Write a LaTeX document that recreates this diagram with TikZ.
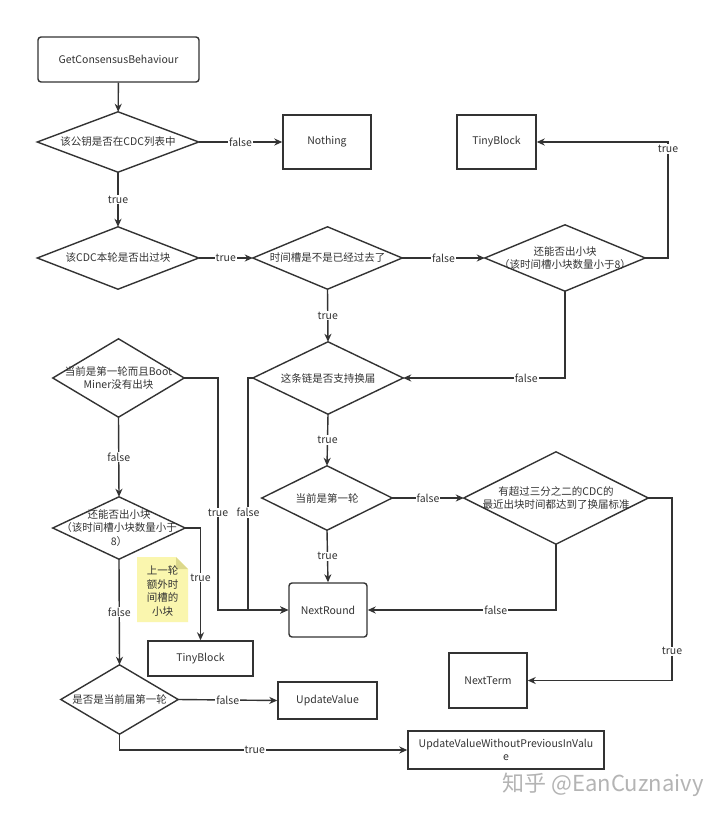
\documentclass[tikz,border=0pt]{standalone}
\usepackage{fontspec}
\setmainfont{Noto Sans CJK SC}
\usetikzlibrary{arrows.meta}
\definecolor{lnc}{HTML}{333333}
\definecolor{txt}{HTML}{333333}
\definecolor{notefill}{HTML}{FAF6AE}
\definecolor{notefold}{HTML}{DCD88C}
\definecolor{wm}{HTML}{B4B4B4}
\begin{document}
\begin{tikzpicture}[x=1pt,y=-1pt,
  every node/.style={font=\fontsize{10.5}{13.5}\selectfont, text=txt},
  box/.style={draw=lnc, line width=1.4pt, inner sep=0pt, align=center},
  rbox/.style={box, rounded corners=3pt},
  dia/.style={inner sep=0pt, align=center},
  lbl/.style={fill=white, inner sep=1pt},
  conn/.style={draw=lnc, line width=1.4pt},
  arr/.style={conn, -{Stealth[length=8pt,width=7pt,inset=2.5pt]}}]
\fill[white] (0,0) rectangle (720,818);
\useasboundingbox (0,0) rectangle (720,818);

% boxes
\node[rbox, minimum width=161pt, minimum height=45pt] (start) at (118.5,59.5) {GetConsensusBehaviour};
\node[box, minimum width=88pt, minimum height=54pt] (nothing) at (327,142) {Nothing};
\node[box, minimum width=79pt, minimum height=54pt] (tiny1) at (496.5,142) {TinyBlock};
\node[rbox, minimum width=78pt, minimum height=54pt] (nextround) at (328,610) {NextRound};
\node[box, minimum width=78pt, minimum height=55pt] (nextterm) at (488,680.5) {NextTerm};
\node[box, minimum width=105pt, minimum height=35pt] (tiny2) at (200.5,658.5) {TinyBlock};
\node[box, minimum width=99pt, minimum height=37pt] (update) at (327.5,700.5) {UpdateValue};
\node[box, minimum width=196pt, minimum height=38pt] (uvw) at (506,750) {UpdateValueWithoutPreviousInValu\\e};

% diamonds
\node[dia, minimum width=161pt, minimum height=60pt] (d1) at (118,142) {该公钥是否在CDC列表中};
\node[dia, minimum width=161pt, minimum height=62pt] (d2) at (118,258) {该CDC本轮是否出过块};
\node[dia, minimum width=149pt, minimum height=62pt] (d3) at (327.5,258) {时间槽是不是已经过去了};
\node[dia, minimum width=160pt, minimum height=66pt] (d4) at (565,258) {还能否出小块\\（该时间槽小块数量小于8）};
\node[dia, minimum width=150pt, minimum height=72pt] (d5) at (328,378) {这条链是否支持换届};
\node[dia, minimum width=131pt, minimum height=78pt] (db) at (118.5,378) {当前是第一轮而且Boot\\Miner没有出块};
\node[dia, minimum width=130pt, minimum height=64pt] (d6) at (327,498) {当前是第一轮};
\node[dia, minimum width=184pt, minimum height=92pt] (d7) at (556,498) {有超过三分之二的CDC的\\最近出块时间都达到了换届标准};
\node[dia, minimum width=132pt, minimum height=62pt] (d8) at (119,528) {还能否出小块\\（该时间槽小块数量小于\\8）};
\node[dia, minimum width=117pt, minimum height=69pt] (d9) at (119.5,699.5) {是否是当前届第一轮};
\foreach \n in {d1,d2,d3,d4,d5,db,d6,d7,d8,d9}
  \draw[conn, line join=miter] (\n.west) -- (\n.north) -- (\n.east) -- (\n.south) -- cycle;

% note
\fill[notefill] (137,557) -- (176,557) -- (188,569) -- (188,622) -- (137,622) -- cycle;
\fill[notefold] (176,557) -- (188,569) -- (176,569) -- cycle;
\node[inner sep=0pt, align=center] (note) at (162.5,591) {上一轮\\额外时\\间槽的\\小块};

% waypoints
\coordinate (c1) at (668,258);
\coordinate (c2) at (248,378);
\coordinate (c3) at (248,610);
\coordinate (c4) at (218,378);
\coordinate (c5) at (218,610);
\coordinate (c6) at (672,498);
\coordinate (c7) at (672,680.5);

% connectors
\draw[arr] (start) -- (d1);
\draw[arr] (d1.east) -- node[lbl]{false} (nothing.west);
\draw[arr] (d1.south) -- node[lbl]{true} (d2.north);
\draw[arr] (d2.east) -- node[lbl]{true} (d3.west);
\draw[arr] (d3.east) -- node[lbl]{false} (d4.west);
\draw[arr] (d4.east) -- (c1) |- node[lbl,pos=0.47]{true} (tiny1.east);
\draw[arr] (d4.south) |- node[lbl,pos=0.62]{false} (d5.east);
\draw[arr] (d3.south) -- node[lbl]{true} (d5.north);
\draw[arr] (d5.west) -- (c2) -- node[lbl,pos=0.58]{false} (c3) -- (nextround.west);
\draw[arr] (db.east) -- (c4) -- node[lbl,pos=0.58]{true} (c5) -- (nextround.west);
\draw[arr] (d5.south) -- node[lbl]{true} (d6.north);
\draw[arr] (d6.east) -- node[lbl]{false} (d7.west);
\draw[arr] (d6.south) -- node[lbl]{true} (nextround.north);
\draw[arr] (d7.south) |- node[lbl,pos=0.66]{false} (nextround.east);
\draw[arr] (d7.east) -- (c6) -- node[lbl,pos=0.84]{true} (c7) -- (nextterm.east);
\draw[arr] (db.south) -- node[lbl]{false} (d8.north);
\draw[arr] (d8.east) -| node[lbl,pos=0.72]{true} (tiny2.north);
\draw[arr] (d8.south) -- node[lbl]{false} (d9.north);
\draw[arr] (d9.east) -- node[lbl]{false} (update.west);
\draw[arr] (d9.south) |- node[lbl,pos=0.735]{true} (uvw.west);

% watermark
\node[font=\fontsize{22}{24}\selectfont, text=wm, inner sep=0pt] (wmark) at (603,785) {知乎 @EanCuznaivy};
\end{tikzpicture}
\end{document}
